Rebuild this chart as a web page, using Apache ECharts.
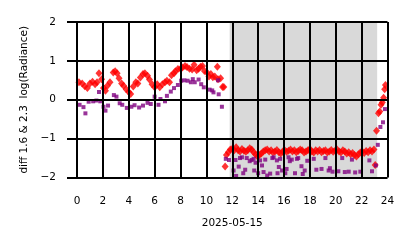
<!DOCTYPE html>
<html>
<head>
<meta charset="utf-8">
<script src="https://cdn.jsdelivr.net/npm/echarts@6/dist/echarts.min.js"></script>
<style>html,body{margin:0;padding:0;background:#fff}#c{width:414px;height:248px}</style>
</head>
<body>
<div id="c"></div>
<script>
// Red diamonds (diff 1.6) : hours and values
var redHours = [0.15,0.4,0.6,0.8,1.0,1.2,1.4,1.55,1.7,1.9,2.05,2.2,2.35,2.55,2.8,2.95,3.1,3.25,3.45,3.6,3.8,4.0,4.15,4.35,4.55,4.7,4.9,5.1,5.25,5.45,5.6,5.8,6.0,6.2,6.4,6.6,6.8,6.95,7.15,7.3,7.5,7.6,7.8,8.0,8.15,8.35,8.5,8.7,8.9,9.05,9.25,9.4,9.55,9.7,9.85,10.05,10.2,10.35,10.5,10.65,10.85,10.9,11.1,11.25,11.35,11.45,
  11.55,11.7,11.85,12.0,12.15,12.3,12.45,12.6,12.75,12.9,13.05,13.2,13.35,13.5,13.65,13.8,13.95,14.1,14.25,14.4,14.55,14.7,14.85,15.0,15.15,15.3,15.45,15.6,15.75,15.9,16.05,16.2,16.35,16.5,16.65,16.8,16.95,17.1,17.25,17.4,17.55,17.7,17.85,18.0,18.15,18.3,18.45,18.6,18.75,18.9,19.05,19.2,19.35,19.5,19.65,19.8,19.95,20.1,20.25,20.4,20.55,20.7,20.85,21.0,21.15,21.3,21.45,21.6,21.75,21.9,22.05,22.2,22.35,22.5,22.65,22.8,22.95,
  23.05,23.15,23.3,23.4,23.5,23.6,23.7,23.78,23.84];
var redValues = [0.45,0.42,0.35,0.3,0.42,0.46,0.4,0.45,0.68,0.53,0.3,0.23,0.36,0.45,0.7,0.73,0.68,0.55,0.42,0.36,0.27,0.2,0.15,0.34,0.45,0.42,0.57,0.66,0.68,0.62,0.52,0.4,0.32,0.4,0.32,0.4,0.45,0.49,0.45,0.63,0.68,0.73,0.79,0.8,0.83,0.87,0.84,0.8,0.78,0.9,0.76,0.8,0.85,0.87,0.74,0.7,0.6,0.66,0.58,0.6,0.85,0.53,0.55,0.33,0.33,-1.72,
  -1.42,-1.35,-1.28,-1.26,-1.3,-1.22,-1.3,-1.33,-1.27,-1.31,-1.34,-1.3,-1.25,-1.28,-1.35,-1.4,-1.46,-1.42,-1.38,-1.33,-1.3,-1.28,-1.33,-1.3,-1.36,-1.33,-1.29,-1.35,-1.38,-1.33,-1.3,-1.34,-1.31,-1.28,-1.33,-1.3,-1.35,-1.32,-1.28,-1.3,-1.36,-1.33,-1.3,-1.27,-1.33,-1.36,-1.3,-1.33,-1.29,-1.35,-1.32,-1.3,-1.36,-1.33,-1.29,-1.34,-1.31,-1.28,-1.33,-1.36,-1.3,-1.33,-1.38,-1.35,-1.4,-1.37,-1.42,-1.46,-1.4,-1.36,-1.33,-1.37,-1.32,-1.35,-1.3,-1.33,-1.28,
  -1.68,-0.8,-0.35,-0.3,-0.13,-0.07,0.05,0.27,0.38];

// Purple squares (diff 2.3) : hours and values
var purpleHours = [0.2,0.5,0.65,0.9,1.25,1.5,1.7,1.8,2.05,2.2,2.4,2.85,3.05,3.3,3.5,3.85,4.2,4.45,4.8,5.1,5.45,5.7,6.0,6.3,6.45,6.8,6.95,7.25,7.5,7.8,8.05,8.3,8.55,8.8,8.95,9.1,9.4,9.6,9.8,10.25,10.45,10.55,10.9,10.95,11.2,
  11.5,11.75,12.1,12.25,12.3,12.5,12.6,12.75,12.85,13.0,13.12,13.35,13.5,13.65,13.7,13.8,14.0,14.15,14.3,14.42,14.55,14.7,14.93,15.1,15.2,15.45,15.5,15.6,15.7,15.85,16.1,16.2,16.35,16.45,16.6,16.85,17.0,17.1,17.35,17.45,17.6,17.8,18.3,18.5,18.9,19.2,19.45,19.55,19.75,20.2,20.5,20.7,21.0,21.25,21.5,21.9,22.6,22.8,
  23.1,23.25,23.45,23.65,23.8];
var purpleValues = [-0.13,-0.19,-0.35,-0.05,-0.04,-0.02,0.2,-0.04,-0.18,-0.28,-0.15,0.12,0.08,-0.09,-0.13,-0.21,-0.18,-0.14,-0.2,-0.15,-0.08,-0.11,0.08,-0.13,0.02,-0.04,0.1,0.21,0.3,0.38,0.49,0.5,0.49,0.45,0.53,0.45,0.52,0.4,0.32,0.26,0.24,0.19,0.5,0.14,-0.18,
  -1.52,-1.55,-1.82,-1.55,-1.96,-1.72,-1.5,-1.48,-1.89,-1.8,-1.5,-1.58,-1.55,-1.52,-1.82,-1.62,-1.89,-1.56,-1.69,-1.86,-1.54,-1.95,-1.9,-1.5,-1.48,-1.56,-1.89,-1.73,-1.52,-1.82,-1.89,-1.78,-1.48,-1.58,-1.54,-1.89,-1.52,-1.5,-1.71,-1.91,-1.82,-1.57,-1.52,-1.8,-1.78,-1.5,-1.82,-1.76,-1.85,-1.84,-1.5,-1.86,-1.85,-1.54,-1.87,-1.85,-1.56,-1.84,
  -1.69,-1.16,-0.7,-0.58,-0.24];

// Shaded period (hours)
var shadeStart = 11.8, shadeEnd = 23.2;
var xName = '2025-05-15';
var yName = 'diff 1.6 & 2.3  log(Radiance)';

function pairs(xs, ys){ var o=[]; for (var i=0;i<xs.length;i++) o.push([xs[i], ys[i]]); return o; }
var fontFam = 'DejaVu Sans';
var chart = echarts.init(document.getElementById('c'), null, {renderer:'canvas'});
chart.setOption({
  animation: false,
  backgroundColor: '#ffffff',
  grid: {left: 77, right: 26.5, top: 22, bottom: 70.5},
  xAxis: {
    type: 'value', min: 0, max: 24, interval: 2, z: 10,
    name: xName, nameLocation: 'middle', nameGap: 40.5,
    nameTextStyle: {fontFamily: fontFam, fontSize: 10.5, color: '#000'},
    axisLine: {show: true, lineStyle: {color: '#000', width: 2}},
    axisTick: {show: true, length: 9, lineStyle: {color: '#000', width: 2}},
    axisLabel: {fontFamily: fontFam, fontSize: 10.5, color: '#000', margin: 18.5},
    splitLine: {show: true, lineStyle: {color: '#000', width: 2}}
  },
  yAxis: {
    type: 'value', min: -2, max: 2, interval: 1, z: 10,
    name: yName, nameLocation: 'middle', nameGap: 47,
    nameTextStyle: {fontFamily: fontFam, fontSize: 10.5, color: '#000'},
    axisLine: {show: true, lineStyle: {color: '#000', width: 2}},
    axisTick: {show: true, length: 10, lineStyle: {color: '#000', width: 2}},
    axisLabel: {fontFamily: fontFam, fontSize: 10.5, color: '#000', margin: 21,
      formatter: function(v){ return v < 0 ? '\u2212' + Math.abs(v) : String(v); }},
    splitLine: {show: true, lineStyle: {color: '#000', width: 2}}
  },
  series: [
    {type: 'scatter', name: 'diff 1.6', symbol: 'diamond', symbolSize: [7, 8],
     itemStyle: {color: '#ff0000'}, data: pairs(redHours, redValues), z: 3},
    {type: 'scatter', name: 'diff 2.3', symbol: 'rect', symbolSize: 4,
     itemStyle: {color: '#800080'}, data: pairs(purpleHours, purpleValues), z: 4},
    {type: 'line', data: [], z: 6, silent: true,
     markArea: {silent: true, itemStyle: {color: 'rgba(128,128,128,0.3)'},
       data: [[{xAxis: shadeStart}, {xAxis: shadeEnd}]]}}
  ]
});
</script>
</body>
</html>
